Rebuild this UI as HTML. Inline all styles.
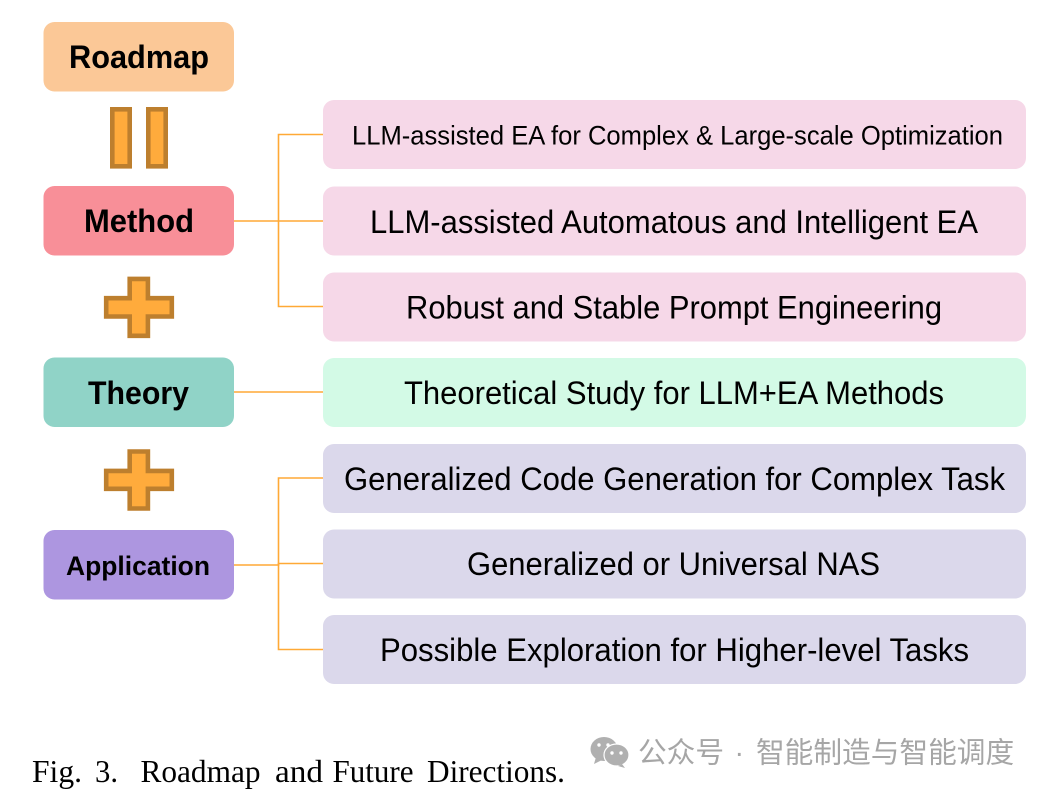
<!DOCTYPE html>
<html><head><meta charset="utf-8"><style>
html,body{margin:0;padding:0;background:#fff;width:1049px;height:795px;overflow:hidden}
svg{display:block}
.s{font-family:"Liberation Sans",sans-serif;fill:#000}
.b{font-weight:bold}
.c{font-family:"Liberation Serif",serif;fill:#000;font-size:32px}
.w{font-family:"Liberation Sans","Noto Sans CJK SC",sans-serif;fill:#a6a6a6;font-size:28.7px}
</style></head><body>
<svg width="1049" height="795" viewBox="0 0 1049 795" xmlns="http://www.w3.org/2000/svg">
<rect width="1049" height="795" fill="#fff"/>
<g fill="none" stroke="#ffa936" stroke-width="1.6">
<path d="M323 134.5H278.5V306.5H323"/>
<path d="M234 221H323"/>
<path d="M234 392H323"/>
<path d="M323 478H278.5V649.5H323"/>
<path d="M234 565H278.5V563.5H323"/>
</g>
<rect x="43.5" y="22" width="190.5" height="69.5" rx="11" fill="#fbc897"/>
<rect x="43.5" y="186" width="190.5" height="69.5" rx="11" fill="#f88f98"/>
<rect x="43.5" y="357.5" width="190.5" height="69.5" rx="11" fill="#90d3c7"/>
<rect x="43.5" y="530" width="190.5" height="69.5" rx="11" fill="#ad96e0"/>
<g fill="#f6d8e8">
<rect x="323" y="100" width="703" height="69" rx="11"/>
<rect x="323" y="186.5" width="703" height="69" rx="11"/>
<rect x="323" y="272.5" width="703" height="69" rx="11"/>
</g>
<rect x="323" y="358" width="703" height="69" rx="11" fill="#d3fae6"/>
<g fill="#dbd8eb">
<rect x="323" y="444" width="703" height="69" rx="11"/>
<rect x="323" y="529.5" width="703" height="69" rx="11"/>
<rect x="323" y="615" width="703" height="69" rx="11"/>
</g>
<g fill="#ffab3c" stroke="#bd7f2e" stroke-width="4.6">
<rect x="112.3" y="109.3" width="17.4" height="57"/>
<rect x="148.3" y="109.3" width="17.4" height="57"/>
<path d="M129.7 278.9H147.9V298.2H171.8V316.5H147.9V335.8H129.7V316.5H106.2V298.2H129.7Z"/>
<path d="M129.7 451.5H147.9V470.9H171.8V488.8H147.9V508.5H129.7V488.8H106.2V470.9H129.7Z"/>
</g>
<text class="s b" x="69" y="68" font-size="32" textLength="140" lengthAdjust="spacingAndGlyphs">Roadmap</text>
<text class="s b" x="84" y="232" font-size="32" textLength="110" lengthAdjust="spacingAndGlyphs">Method</text>
<text class="s b" x="88" y="404" font-size="32" textLength="101" lengthAdjust="spacingAndGlyphs">Theory</text>
<text class="s b" x="66" y="575" font-size="27" textLength="144" lengthAdjust="spacingAndGlyphs">Application</text>
<text class="s" x="352" y="144.5" font-size="27" textLength="651" lengthAdjust="spacingAndGlyphs">LLM-assisted EA for Complex &amp; Large-scale Optimization</text>
<text class="s" x="370" y="233" font-size="32" textLength="608" lengthAdjust="spacingAndGlyphs">LLM-assisted Automatous and Intelligent EA</text>
<text class="s" x="406" y="318.5" font-size="32" textLength="536" lengthAdjust="spacingAndGlyphs">Robust and Stable Prompt Engineering</text>
<text class="s" x="404" y="404" font-size="32" textLength="540" lengthAdjust="spacingAndGlyphs">Theoretical Study for LLM+EA Methods</text>
<text class="s" x="344" y="490" font-size="32" textLength="661" lengthAdjust="spacingAndGlyphs">Generalized Code Generation for Complex Task</text>
<text class="s" x="467" y="575" font-size="32" textLength="413" lengthAdjust="spacingAndGlyphs">Generalized or Universal NAS</text>
<text class="s" x="380" y="661" font-size="32" textLength="589" lengthAdjust="spacingAndGlyphs">Possible Exploration for Higher-level Tasks</text>
<text class="c" x="32" y="782" textLength="50" lengthAdjust="spacingAndGlyphs">Fig.</text>
<text class="c" x="95" y="782" textLength="23" lengthAdjust="spacingAndGlyphs">3.</text>
<text class="c" x="140.5" y="782" textLength="120" lengthAdjust="spacingAndGlyphs">Roadmap</text>
<text class="c" x="275" y="782" textLength="48" lengthAdjust="spacingAndGlyphs">and</text>
<text class="c" x="332.5" y="782" textLength="81" lengthAdjust="spacingAndGlyphs">Future</text>
<text class="c" x="427" y="782" textLength="138" lengthAdjust="spacingAndGlyphs">Directions.</text>
<g fill="#b0b0b0">
<ellipse cx="604" cy="749" rx="13.5" ry="12"/>
<path d="M596 757l-2 7 8-4z"/>
</g>
<g>
<ellipse cx="616.5" cy="755" rx="12.5" ry="11" fill="#b0b0b0" stroke="#fff" stroke-width="1.2"/>
<path d="M622 764l3 4-7-2z" fill="#b0b0b0"/>
<circle cx="599" cy="745" r="1.7" fill="#fff"/><circle cx="608" cy="745" r="1.7" fill="#fff"/>
<circle cx="612" cy="753" r="1.7" fill="#fff"/><circle cx="621" cy="753" r="1.7" fill="#fff"/>
</g>
<text class="w" x="638" y="762.5">公众号</text>
<text class="w" x="734.5" y="762.5">·</text>
<text class="w" x="756" y="762.5">智能制造与智能调度</text>
</svg>
</body></html>
